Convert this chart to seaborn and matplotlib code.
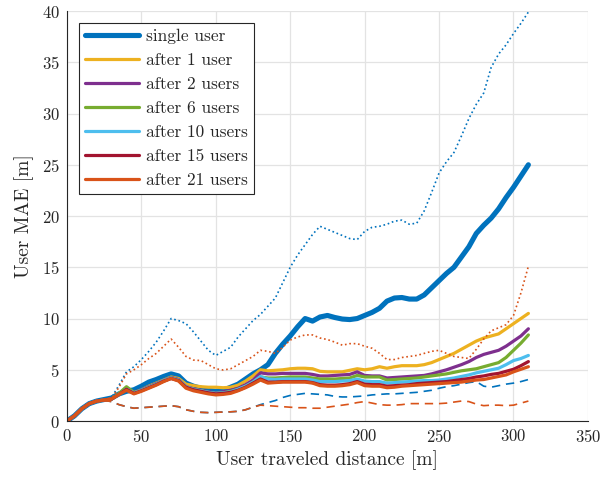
import numpy as np
import pandas as pd
import matplotlib
matplotlib.use("Agg")
import matplotlib.pyplot as plt
import seaborn as sb

# travelled distance grid [m]
dist = list(range(0, 315, 5))

single_user = [0, 0.5, 1.2, 1.7, 1.95, 2.1, 2.25, 2.65, 2.9, 3.05,
               3.4, 3.8, 4.05, 4.35, 4.6, 4.4, 3.7, 3.4, 3.2, 3.0,
               2.9, 3.0, 3.3, 3.6, 4.1, 4.6, 5.0, 5.5, 6.6, 7.5,
               8.3, 9.2, 10.0, 9.75, 10.15, 10.3, 10.1, 9.95, 9.9, 10.0,
               10.3, 10.6, 11.0, 11.7, 12.0, 12.05, 11.9, 11.9, 12.3, 13.0,
               13.7, 14.4, 15.0, 16.0, 17.0, 18.3, 19.1, 19.8, 20.7, 21.8,
               22.8, 23.9, 25.0]

single_upper = [0, 0.5, 1.2, 1.7, 1.95, 2.1, 2.3, 3.5, 4.8, 5.3,
                6.0, 6.8, 7.7, 8.8, 10.0, 9.8, 9.5, 8.7, 7.8, 6.9,
                6.4, 6.8, 7.2, 8.2, 9.0, 9.8, 10.4, 11.2, 12.0, 13.5,
                15.0, 16.2, 17.2, 18.2, 19.0, 18.7, 18.4, 18.1, 17.8, 17.7,
                18.5, 18.9, 19.0, 19.2, 19.5, 19.6, 19.2, 19.3, 20.5, 22.3,
                24.2, 25.3, 26.2, 27.8, 29.5, 30.9, 32.0, 34.5, 35.8, 36.7,
                37.8, 38.8, 39.9]

single_lower = [0, 0.5, 1.2, 1.7, 1.9, 2.0, 1.9, 1.6, 1.4, 1.25,
                1.3, 1.35, 1.4, 1.45, 1.5, 1.4, 1.1, 0.95, 0.85, 0.82,
                0.85, 0.88, 0.9, 0.95, 1.1, 1.35, 1.6, 1.8, 2.0, 2.3,
                2.5, 2.6, 2.7, 2.65, 2.6, 2.55, 2.4, 2.35, 2.35, 2.4,
                2.45, 2.55, 2.6, 2.65, 2.65, 2.7, 2.75, 2.8, 2.9, 3.0,
                3.2, 3.35, 3.45, 3.6, 3.75, 3.85, 3.4, 3.3, 3.45, 3.6,
                3.7, 3.85, 4.05]

after_1 = [0, 0.5, 1.2, 1.7, 1.95, 2.05, 2.15, 2.6, 3.1, 2.75,
           3.05, 3.4, 3.7, 4.0, 4.3, 4.15, 3.6, 3.45, 3.35, 3.3,
           3.3, 3.25, 3.3, 3.5, 3.9, 4.4, 5.0, 4.9, 4.95, 5.0,
           5.1, 5.15, 5.15, 5.1, 4.85, 4.8, 4.8, 4.8, 4.95, 5.1,
           5.0, 5.1, 5.3, 5.15, 5.3, 5.4, 5.4, 5.4, 5.5, 5.7,
           6.0, 6.3, 6.6, 7.0, 7.4, 7.8, 8.1, 8.3, 8.5, 9.0,
           9.5, 10.0, 10.5]

after_2 = [0, 0.5, 1.2, 1.7, 1.95, 2.05, 2.15, 2.6, 3.2, 2.8,
           3.05, 3.35, 3.65, 3.95, 4.25, 4.05, 3.35, 3.15, 3.0, 2.85,
           2.75, 2.85, 3.0, 3.2, 3.55, 4.0, 4.7, 4.6, 4.6, 4.65,
           4.65, 4.65, 4.65, 4.55, 4.4, 4.4, 4.45, 4.5, 4.55, 4.8,
           4.45, 4.4, 4.4, 4.2, 4.25, 4.3, 4.35, 4.4, 4.45, 4.6,
           4.8, 5.0, 5.25, 5.5, 5.8, 6.2, 6.5, 6.7, 6.9, 7.3,
           7.8, 8.3, 9.0]

after_6 = [0, 0.5, 1.2, 1.7, 1.95, 2.05, 2.15, 2.7, 3.35, 2.8,
           3.0, 3.3, 3.6, 3.9, 4.2, 4.0, 3.3, 3.1, 2.95, 2.8,
           2.7, 2.75, 2.9, 3.1, 3.4, 3.8, 4.3, 4.2, 4.2, 4.25,
           4.3, 4.3, 4.3, 4.2, 4.1, 4.1, 4.1, 4.15, 4.2, 4.45,
           4.3, 4.3, 4.3, 4.0, 4.05, 4.1, 4.15, 4.2, 4.3, 4.4,
           4.5, 4.6, 4.75, 4.9, 5.0, 5.1, 5.3, 5.5, 5.7, 6.2,
           6.9, 7.6, 8.4]

after_10 = [0, 0.5, 1.2, 1.7, 1.95, 2.05, 2.15, 2.6, 3.1, 2.75,
            3.0, 3.3, 3.6, 3.95, 4.2, 4.0, 3.35, 3.1, 2.95, 2.8,
            2.7, 2.75, 2.85, 3.1, 3.4, 3.8, 4.35, 4.1, 4.05, 4.1,
            4.1, 4.1, 4.1, 4.0, 3.85, 3.85, 3.85, 3.9, 3.95, 4.1,
            3.9, 3.85, 3.85, 3.7, 3.75, 3.8, 3.85, 3.9, 3.95, 3.95,
            4.0, 4.1, 4.2, 4.35, 4.5, 4.7, 4.85, 5.0, 5.15, 5.5,
            5.9, 6.1, 6.4]

after_15 = [0, 0.5, 1.2, 1.7, 1.95, 2.05, 2.15, 2.6, 3.1, 2.7,
            2.95, 3.25, 3.55, 3.9, 4.15, 3.95, 3.3, 3.05, 2.9, 2.75,
            2.65, 2.7, 2.8, 3.0, 3.3, 3.7, 4.1, 3.8, 3.8, 3.85,
            3.85, 3.85, 3.85, 3.75, 3.55, 3.5, 3.5, 3.55, 3.65, 3.85,
            3.6, 3.55, 3.55, 3.4, 3.45, 3.5, 3.55, 3.65, 3.7, 3.75,
            3.8, 3.85, 3.95, 4.05, 4.15, 4.3, 4.4, 4.55, 4.65, 4.85,
            5.05, 5.4, 5.8]

after_21 = [0, 0.5, 1.2, 1.7, 1.95, 2.05, 2.15, 2.6, 3.0, 2.65,
            2.9, 3.2, 3.5, 3.85, 4.15, 3.9, 3.2, 2.95, 2.8, 2.65,
            2.55, 2.6, 2.7, 2.95, 3.25, 3.6, 4.0, 3.7, 3.75, 3.8,
            3.8, 3.8, 3.8, 3.7, 3.45, 3.4, 3.4, 3.45, 3.55, 3.75,
            3.45, 3.4, 3.4, 3.25, 3.3, 3.4, 3.45, 3.5, 3.55, 3.6,
            3.65, 3.7, 3.75, 3.8, 3.9, 4.0, 4.05, 4.2, 4.35, 4.5,
            4.8, 5.05, 5.3]

after_21_upper = [0, 0.5, 1.2, 1.7, 1.95, 2.1, 2.2, 3.3, 4.6, 5.0,
                  5.5, 6.1, 6.6, 7.3, 8.0, 7.2, 6.3, 5.95, 5.9, 5.5,
                  5.1, 4.98, 5.1, 5.5, 5.9, 6.3, 6.9, 6.8, 6.6, 7.2,
                  7.9, 8.2, 8.4, 8.4, 8.1, 7.95, 7.7, 7.4, 7.55, 7.55,
                  7.3, 7.1, 6.6, 6.0, 6.0, 6.2, 6.3, 6.4, 6.6, 6.8,
                  6.9, 6.6, 6.3, 6.2, 6.1, 7.0, 8.0, 8.8, 9.1, 9.4,
                  10.3, 12.5, 15.1]

after_21_lower = [0, 0.5, 1.2, 1.7, 1.9, 2.0, 1.9, 1.6, 1.4, 1.25,
                  1.3, 1.35, 1.4, 1.45, 1.5, 1.4, 1.1, 0.95, 0.85, 0.82,
                  0.85, 0.88, 0.9, 0.95, 1.1, 1.35, 1.55, 1.5, 1.45, 1.4,
                  1.35, 1.3, 1.3, 1.25, 1.25, 1.35, 1.45, 1.55, 1.65, 1.8,
                  1.9, 1.75, 1.6, 1.55, 1.55, 1.6, 1.7, 1.7, 1.7, 1.7,
                  1.7, 1.75, 1.85, 1.95, 1.9, 1.65, 1.5, 1.55, 1.55, 1.5,
                  1.55, 1.75, 1.95]

labels = ['single user', 'after 1 user', 'after 2 users', 'after 6 users',
          'after 10 users', 'after 15 users', 'after 21 users']
colors = ['#0072BD', '#EDB120', '#7E2F8E', '#77AC30', '#4DBEEE', '#A2142F', '#D95319']
solid = [single_user, after_1, after_2, after_6, after_10, after_15, after_21]

sb.set_style('white')
plt.rcParams['font.family'] = ['cmr10', 'DejaVu Serif']
plt.rcParams['mathtext.fontset'] = 'cm'
plt.rcParams['axes.formatter.use_mathtext'] = True
plt.rcParams['axes.unicode_minus'] = False

fig, ax = plt.subplots(figsize=(6.03, 4.79), dpi=100)
fig.subplots_adjust(left=0.111, right=0.975, top=0.977, bottom=0.121)

handles = []
for k, (lab, col, vals) in enumerate(zip(labels, colors, solid)):
    df = pd.DataFrame({'dist': dist, 'mae': vals})
    sb.lineplot(data=df, x='dist', y='mae', color=col, lw=3.7 if k == 0 else 2.3,
                ax=ax, sort=False, errorbar=None, legend=False)
    handles.append(ax.lines[-1])
    if k == 0:
        # spread of the single-user error
        sb.lineplot(x=dist, y=single_upper, color=col, lw=1.2, ls=':', ax=ax,
                    sort=False, errorbar=None, legend=False)
        sb.lineplot(x=dist, y=single_lower, color=col, lw=1.2, ls=(0, (5, 3.5)), ax=ax,
                    sort=False, errorbar=None, legend=False)

sb.lineplot(x=dist, y=after_21_upper, color=colors[-1], lw=1.2, ls=':', ax=ax,
            sort=False, errorbar=None, legend=False)
sb.lineplot(x=dist, y=after_21_lower, color=colors[-1], lw=1.2, ls=(0, (5, 3.5)), ax=ax,
            sort=False, errorbar=None, legend=False)

ax.set_xlim(0, 350)
ax.set_ylim(0, 40)
ax.set_xticks(range(0, 351, 50))
ax.set_yticks(range(0, 41, 5))
ax.grid(True, color='#e3e3e3', lw=0.9)
ax.set_axisbelow(True)
for s in ['top', 'right']:
    ax.spines[s].set_visible(False)
for s in ['left', 'bottom']:
    ax.spines[s].set_color('#262626')
    ax.spines[s].set_linewidth(0.8)
ax.tick_params(direction='in', length=4, width=0.8, color='#262626',
               labelcolor='#262626', labelsize=12, pad=5)

ax.set_xlabel('User traveled distance [m]', fontsize=14, color='#262626', labelpad=4)
ax.set_ylabel('User MAE [m]', fontsize=14, color='#262626', labelpad=6)

leg = ax.legend(handles, labels, loc='upper left', bbox_to_anchor=(0.023, 0.971),
                borderaxespad=0, fontsize=12.5, handlelength=3.1, handletextpad=0.4,
                labelspacing=0.5, borderpad=0.35, fancybox=False, framealpha=1,
                edgecolor='#262626')
leg.get_frame().set_linewidth(0.8)
for h in leg.get_lines():
    h.set_linewidth(3.7 if h.get_color() == colors[0] else 2.3)

fig.savefig('out.png', dpi=100)
